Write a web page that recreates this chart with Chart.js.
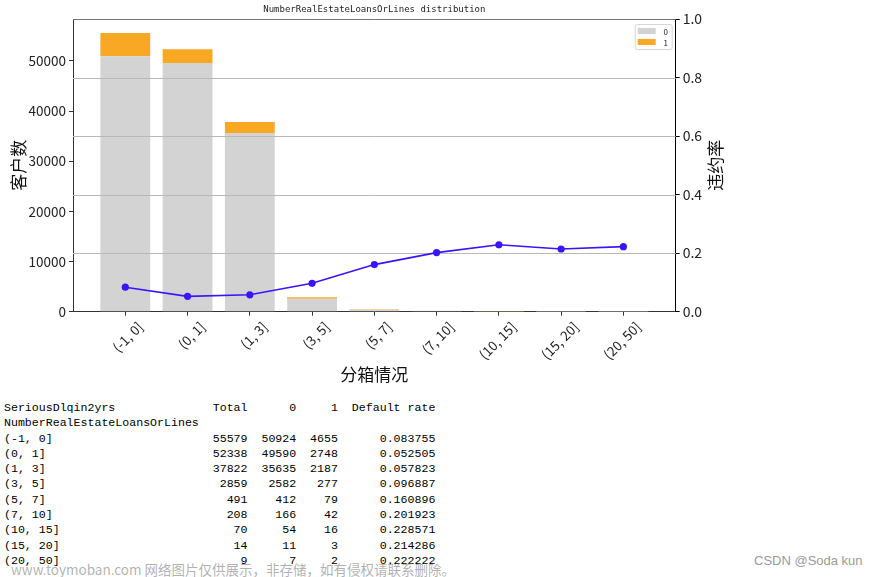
<!DOCTYPE html>
<html>
<head>
<meta charset="utf-8">
<script src="https://cdn.jsdelivr.net/npm/chart.js@4.4.0/dist/chart.umd.min.js"></script>
<style>
  body { margin: 0; background: #fff; width: 879px; height: 577px; overflow: hidden; position: relative; }
  #wrap { position: absolute; left: 0; top: 0; width: 879px; height: 392px; }
  #table { position: absolute; left: 4px; top: 400px; margin: 0; font: 11.6px/15.3px 'Liberation Mono', monospace; color: #000; }
  #wm1 { position: absolute; left: 11px; top: 559px; font: 13.5px 'Noto Sans CJK SC', sans-serif; color: rgba(110,110,110,0.55); white-space: nowrap; }
  #wm2 { position: absolute; left: 754px; top: 553px; font: 13px 'Liberation Sans', sans-serif; color: #9a9a9a; white-space: nowrap; }
</style>
</head>
<body>
<div id="wrap"><canvas id="myChart"></canvas></div>
<pre id="table"></pre>
<div id="wm1">www.toymoban.com 网络图片仅供展示，非存储，如有侵权请联系删除。</div>
<div id="wm2">CSDN @Soda kun</div>
<script>
// bins of NumberRealEstateLoansOrLines
const bins = ['(-1, 0]', '(0, 1]', '(1, 3]', '(3, 5]', '(5, 7]', '(7, 10]', '(10, 15]', '(15, 20]', '(20, 50]'];
const good = [50924, 49590, 35635, 2582, 412, 166, 54, 11, 7];
const bad = [4655, 2748, 2187, 277, 79, 42, 16, 3, 2];
const total = [55579, 52338, 37822, 2859, 491, 208, 70, 14, 9];
const badRate = [0.083755, 0.052505, 0.057823, 0.096887, 0.160896, 0.201923, 0.228571, 0.214286, 0.222222];
const countTicks = [0, 10000, 20000, 30000, 40000, 50000];
const rateTicks = [0, 0.2, 0.4, 0.6, 0.8, 1.0];

// text table under the chart (pandas style)
const lines = [];
lines.push('SeriousDlqin2yrs'.padEnd(28) + '  ' + 'Total'.padStart(5) + '  ' + '0'.padStart(5) + '  ' + '1'.padStart(4) + '  Default rate');
lines.push('NumberRealEstateLoansOrLines');
bins.forEach((b, i) => {
  lines.push(b.padEnd(28) + '  ' + String(total[i]).padStart(5) + '  ' + String(good[i]).padStart(5) + '  ' +
    String(bad[i]).padStart(4) + '  ' + badRate[i].toFixed(6).padStart(12));
});
document.getElementById('table').textContent = lines.join('\n');

const cjk = "'Noto Sans CJK SC', sans-serif";
Chart.defaults.font.family = cjk;
Chart.defaults.color = '#222';

// grid of the right axis sits above the bars but under the line
const rateGrid = {
  id: 'rateGrid',
  beforeDatasetDraw(chart, args) {
    if (args.index !== 2) return;
    const ctx = chart.ctx, a = chart.chartArea, s = chart.scales.y1;
    ctx.save();
    ctx.strokeStyle = '#b8b8b8';
    ctx.lineWidth = 1;
    rateTicks.slice(1, -1).forEach(v => {
      const y = Math.round(s.getPixelForValue(v)) + 0.5;
      ctx.beginPath();
      ctx.moveTo(a.left, y);
      ctx.lineTo(a.right, y);
      ctx.stroke();
    });
    ctx.restore();
  }
};

// title, axis titles, top spine and legend
const decor = {
  id: 'decor',
  afterDraw(chart) {
    const ctx = chart.ctx, a = chart.chartArea;
    ctx.save();
    ctx.strokeStyle = '#777';
    ctx.lineWidth = 1;
    ctx.beginPath();
    ctx.moveTo(a.left, Math.round(a.top) + 0.5);
    ctx.lineTo(a.right, Math.round(a.top) + 0.5);
    ctx.stroke();

    ctx.fillStyle = '#222';
    ctx.textAlign = 'center';
    ctx.textBaseline = 'middle';
    ctx.font = "9px 'DejaVu Sans Mono', monospace";
    ctx.fillText('NumberRealEstateLoansOrLines distribution', (a.left + a.right) / 2, 10);

    ctx.fillStyle = '#111';
    ctx.font = '17px ' + cjk;
    ctx.fillText('分箱情况', (a.left + a.right) / 2, 375);
    [[19, '客户数'], [716, '违约率']].forEach(([x, t]) => {
      ctx.save();
      ctx.translate(x, (a.top + a.bottom) / 2);
      ctx.rotate(-Math.PI / 2);
      ctx.fillText(t, 0, 0);
      ctx.restore();
    });

    // legend box
    const lx = a.right - 41, ly = a.top + 5, lw = 37, lh = 25;
    ctx.fillStyle = 'rgba(255,255,255,0.85)';
    ctx.strokeStyle = '#d6d6d6';
    ctx.beginPath();
    ctx.roundRect(lx + 0.5, ly + 0.5, lw, lh, 2);
    ctx.fill();
    ctx.stroke();
    ctx.font = '8px ' + cjk;
    chart.data.datasets.slice(0, 2).forEach((d, i) => {
      const cy = ly + 7 + i * 11;
      ctx.fillStyle = d.backgroundColor;
      ctx.fillRect(lx + 3, cy - 3, 18, 6);
      ctx.fillStyle = '#222';
      ctx.fillText(d.label, lx + 31, cy + 1);
    });
    ctx.restore();
  }
};

const xPad = 0.4 + 0.05 * (bins.length - 1 + 0.8);
const ctx = document.getElementById('myChart').getContext('2d');
const chart = new Chart(ctx, {
  type: 'bar',
  data: {
    datasets: [
      {
        label: '0',
        data: good.map((v, i) => ({ x: i, y: v })),
        backgroundColor: '#d3d3d3',
        borderWidth: 0,
        yAxisID: 'y'
      },
      {
        label: '1',
        data: bad.map((v, i) => ({ x: i, y: v })),
        backgroundColor: '#f8a822',
        borderWidth: 0,
        yAxisID: 'y'
      },
      {
        type: 'line',
        label: 'bad rate',
        data: badRate.map((v, i) => ({ x: i, y: v })),
        borderColor: '#3a14ff',
        backgroundColor: '#3a14ff',
        borderWidth: 1.6,
        pointRadius: 3.6,
        pointBorderWidth: 0,
        yAxisID: 'y1',
        order: -1
      }
    ]
  },
  options: {
    responsive: true,
    maintainAspectRatio: false,
    animation: false,
    categoryPercentage: 0.8,
    barPercentage: 1,
    layout: { padding: { top: 19, left: 0, right: 0, bottom: 0 } },
    plugins: { legend: { display: false }, tooltip: { enabled: false } },
    scales: {
      x: {
        type: 'linear',
        stacked: true,
        offset: false,
        min: -xPad,
        max: bins.length - 1 + xPad,
        afterBuildTicks: s => { s.ticks = bins.map((b, i) => ({ value: i })); },
        afterFit: s => { s.height = 80.3; },
        ticks: {
          callback: v => bins[v],
          minRotation: 45,
          maxRotation: 45,
          labelOffset: 15,
          padding: 3,
          font: { size: 13.5 },
          color: '#222'
        },
        grid: { display: true, offset: false, drawOnChartArea: false, tickLength: 4, tickColor: '#333' },
        border: { color: '#333' }
      },
      y: {
        position: 'left',
        stacked: true,
        min: 0,
        max: Math.max(...total) * 1.05,
        afterBuildTicks: s => { s.ticks = countTicks.map(v => ({ value: v })); },
        afterFit: s => { s.width = 73; },
        ticks: { padding: 3, font: { size: 13.5 }, color: '#222', callback: v => String(v) },
        grid: { display: true, drawOnChartArea: false, tickLength: 4, tickColor: '#333' },
        border: { color: '#333' }
      },
      y1: {
        position: 'right',
        min: 0,
        max: 1,
        afterBuildTicks: s => { s.ticks = rateTicks.map(v => ({ value: v })); },
        afterFit: s => { s.width = 203.3; },
        ticks: { padding: 3, font: { size: 14 }, color: '#222', callback: v => v.toFixed(1) },
        grid: { display: true, drawOnChartArea: false, tickLength: 4, tickColor: '#000' },
        border: { color: '#000' }
      }
    }
  },
  plugins: [rateGrid, decor]
});
</script>
</body>
</html>
